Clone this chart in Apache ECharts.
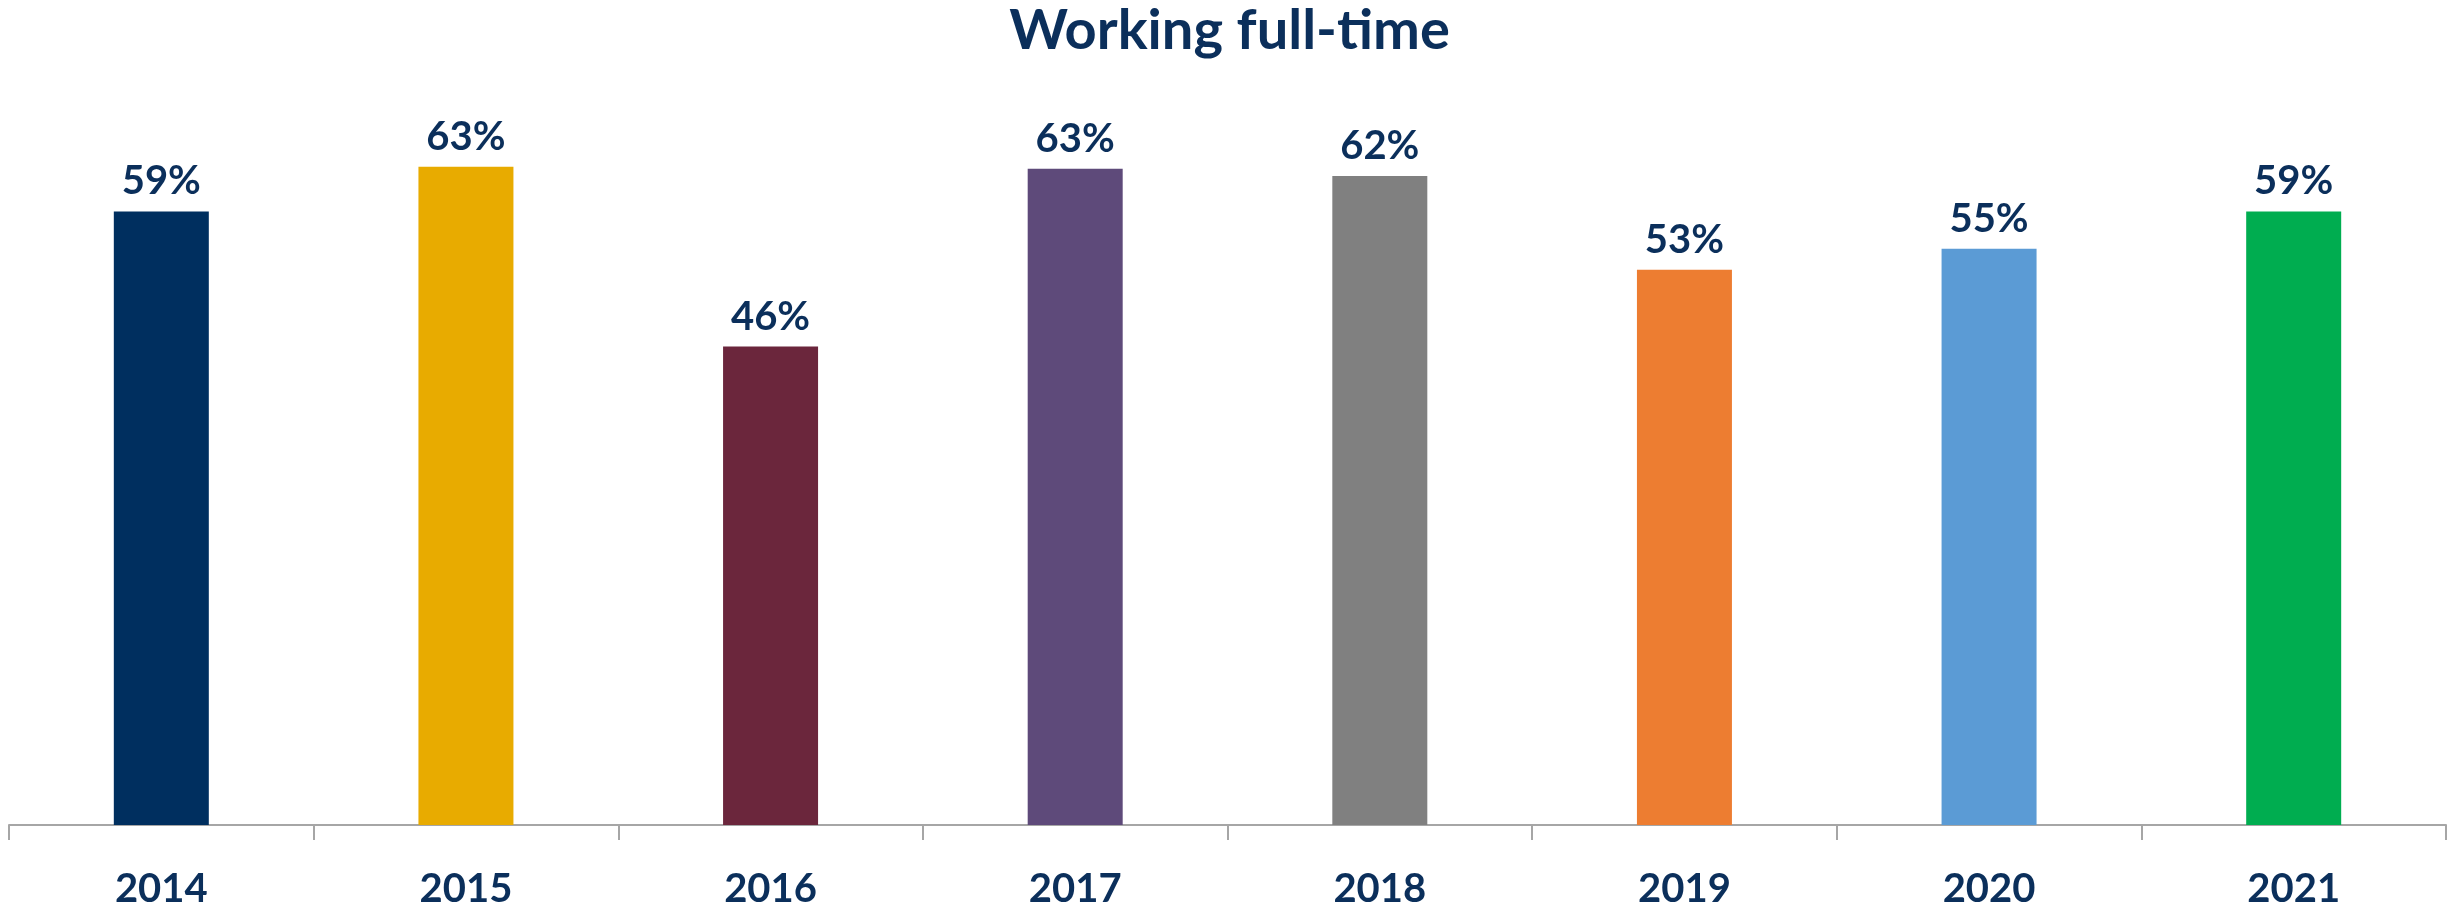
<!DOCTYPE html>
<html>
<head>
<meta charset="utf-8">
<script src="https://cdn.jsdelivr.net/npm/echarts@6/dist/echarts.min.js"></script>
<style>html,body{margin:0;padding:0;background:#fff;}#c{width:2459px;height:913px;}</style>
</head>
<body>
<div id="c"></div>
<script>
const categories = ['2014','2015','2016','2017','2018','2019','2020','2021'];
const values = [59, 63.3, 46, 63.1, 62.4, 53.4, 55.4, 59];
const barColors = ['#002F5F','#E8AB00','#6B263C','#5E4A7A','#808080','#ED7D31','#5B9BD5','#00AD50'];
const titleText = 'Working full-time';

const navy = '#0B2F5B';
const font = 'Lato, "Open Sans", sans-serif';
const chart = echarts.init(document.getElementById('c'));
chart.setOption({
  animation: false,
  title: {
    text: titleText, left: 'center', top: -2,
    textStyle: { color: navy, fontFamily: font, fontWeight: 'bold', fontSize: 56 }
  },
  grid: { left: 9, right: 13, top: 97, bottom: 88 },
  xAxis: {
    type: 'category', data: categories,
    axisLine: { lineStyle: { color: '#A6A6A6', width: 2 } },
    axisTick: { show: true, length: 15, lineStyle: { color: '#A6A6A6', width: 2 } },
    axisLabel: { color: navy, fontFamily: font, fontWeight: 'bold', fontSize: 40, margin: 44 }
  },
  yAxis: { type: 'value', min: 0, max: 70, show: false, splitLine: { show: false } },
  series: [{
    type: 'bar', barWidth: 95,
    data: values.map((v, i) => ({ value: v, itemStyle: { color: barColors[i] } })),
    label: {
      show: true, position: 'top', distance: 10,
      formatter: p => Math.round(p.value) + '%',
      color: navy, fontFamily: font, fontWeight: 'bold', fontSize: 40
    }
  }]
});
</script>
</body>
</html>
